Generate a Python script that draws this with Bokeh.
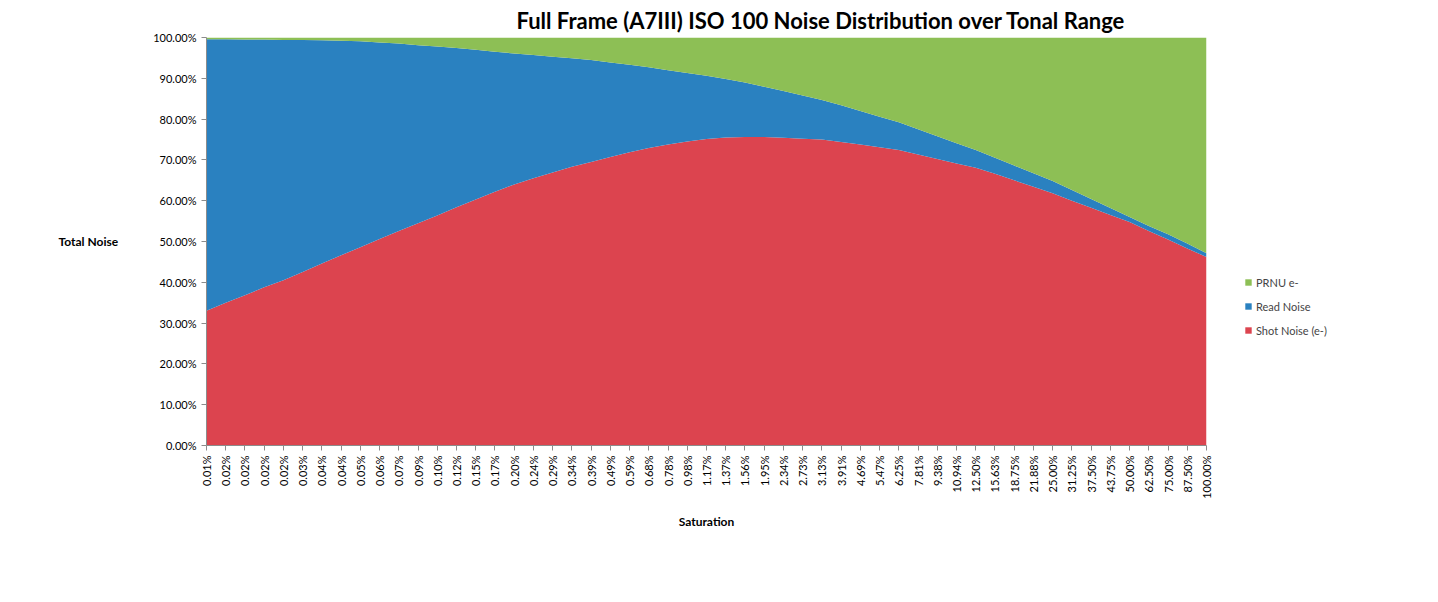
import math
from bokeh.plotting import figure
from bokeh.models import (ColumnDataSource, Range1d, FixedTicker, PrintfTickFormatter,
                          Legend, LegendItem, Title)
from bokeh.embed import file_html
from bokeh.resources import INLINE

# ---- data (percent of total noise) ----
saturation_labels = [
    "0.01%", "0.02%", "0.02%", "0.02%", "0.02%", "0.03%", "0.04%", "0.04%", "0.05%", "0.06%",
    "0.07%", "0.09%", "0.10%", "0.12%", "0.15%", "0.17%", "0.20%", "0.24%", "0.29%", "0.34%",
    "0.39%", "0.49%", "0.59%", "0.68%", "0.78%", "0.98%", "1.17%", "1.37%", "1.56%", "1.95%",
    "2.34%", "2.73%", "3.13%", "3.91%", "4.69%", "5.47%", "6.25%", "7.81%", "9.38%", "10.94%",
    "12.50%", "15.63%", "18.75%", "21.88%", "25.00%", "31.25%", "37.50%", "43.75%", "50.00%",
    "62.50%", "75.00%", "87.50%", "100.00%",
]

shot_noise = [
    33.0, 35.0, 36.8, 38.8, 40.5, 42.5, 44.6, 46.6, 48.6, 50.6,
    52.6, 54.5, 56.4, 58.4, 60.3, 62.2, 64.0, 65.5, 66.9, 68.3,
    69.5, 70.7, 71.9, 72.9, 73.8, 74.5, 75.1, 75.5, 75.6, 75.6,
    75.4, 75.2, 75.0, 74.4, 73.8, 73.1, 72.4, 71.3, 70.2, 69.1,
    68.1, 66.6, 65.0, 63.4, 61.8, 60.0, 58.3, 56.5, 54.8, 52.6,
    50.5, 48.3, 46.2,
]

read_noise = [
    66.6, 64.6, 62.7, 60.7, 58.9, 56.9, 54.7, 52.6, 50.5, 48.2,
    45.9, 43.6, 41.4, 39.0, 36.7, 34.3, 32.1, 30.2, 28.4, 26.6,
    25.0, 23.2, 21.4, 19.8, 18.2, 16.8, 15.5, 14.3, 13.4, 12.3,
    11.5, 10.6, 9.7, 9.0, 8.2, 7.5, 6.8, 6.2, 5.6, 5.0,
    4.3, 3.9, 3.6, 3.3, 3.0, 2.6, 2.1, 1.7, 1.2, 1.2,
    1.3, 1.2, 0.9,
]

prnu = [
    0.4, 0.4, 0.5, 0.5, 0.6, 0.6, 0.7, 0.8, 0.9, 1.2,
    1.5, 1.9, 2.2, 2.6, 3.0, 3.5, 3.9, 4.3, 4.7, 5.1,
    5.5, 6.1, 6.7, 7.3, 8.0, 8.7, 9.4, 10.2, 11.0, 12.1,
    13.1, 14.2, 15.3, 16.6, 18.0, 19.4, 20.8, 22.5, 24.2, 25.9,
    27.6, 29.5, 31.4, 33.3, 35.2, 37.4, 39.6, 41.8, 44.0, 46.2,
    48.2, 50.5, 52.9,
]

y_ticks = [0, 10, 20, 30, 40, 50, 60, 70, 80, 90, 100]

series_names = ["Shot Noise (e-)", "Read Noise", "PRNU e-"]
colors = ["#DC444F", "#2A81C0", "#8DBF55"]

idx = list(range(len(saturation_labels)))
src = ColumnDataSource(dict(x=idx, shot=shot_noise, read=read_noise, prnu=prnu))

p = figure(frame_width=1000, frame_height=408, output_backend="svg", toolbar_location=None,
           x_range=Range1d(0, len(idx) - 1), y_range=Range1d(0, 100),
           min_border_left=206, min_border_right=10, min_border_top=36,
           min_border_bottom=140)

renderers = p.varea_stack(["shot", "read", "prnu"], x="x", color=colors, source=src)

# axes
p.xgrid.visible = False
p.ygrid.visible = False
p.outline_line_color = None

p.yaxis.ticker = FixedTicker(ticks=y_ticks)
p.yaxis.formatter = PrintfTickFormatter(format="%.2f%%")
p.xaxis.ticker = FixedTicker(ticks=idx)
p.xaxis.major_label_overrides = {i: lab for i, lab in enumerate(saturation_labels)}
p.xaxis.major_label_orientation = math.pi / 2

for ax in (p.xaxis[0], p.yaxis[0]):
    ax.axis_line_color = "#8C8C8C"
    ax.major_tick_line_color = "#8C8C8C"
    ax.minor_tick_line_color = None
    ax.major_tick_out = 5
    ax.major_tick_in = 0
    ax.major_label_text_font = "Lato"
    ax.major_label_text_font_size = "11px"
    ax.major_label_text_color = "#000000"
    ax.axis_label_text_font = "Lato"
    ax.axis_label_text_font_size = "12px"
    ax.axis_label_text_font_style = "bold"
    ax.axis_label_text_color = "#000000"

p.yaxis.axis_label = "Total Noise"
p.yaxis.axis_label_orientation = "horizontal"
p.yaxis.axis_label_standoff = 32
p.xaxis.axis_label = "Saturation"
p.xaxis.axis_label_standoff = 12

# title
p.title = Title(text="Full Frame (A7III) ISO 100 Noise Distribution over Tonal Range",
                align="left", offset=310, text_font="Lato", text_font_size="22px",
                text_font_style="bold", text_color="#000000", standoff=8)

# legend in the right-hand panel
items = [LegendItem(label=series_names[i], renderers=[renderers[i]]) for i in (2, 1, 0)]
legend = Legend(items=items, location=(38, 108), glyph_width=8, glyph_height=8,
                label_text_font="Lato", label_text_font_size="11px",
                label_height=14, spacing=10, label_standoff=4, padding=6, margin=0,
                border_line_color=None, background_fill_alpha=0)
p.add_layout(legend, "right")

open("out.html", "w").write(file_html(p, INLINE))
